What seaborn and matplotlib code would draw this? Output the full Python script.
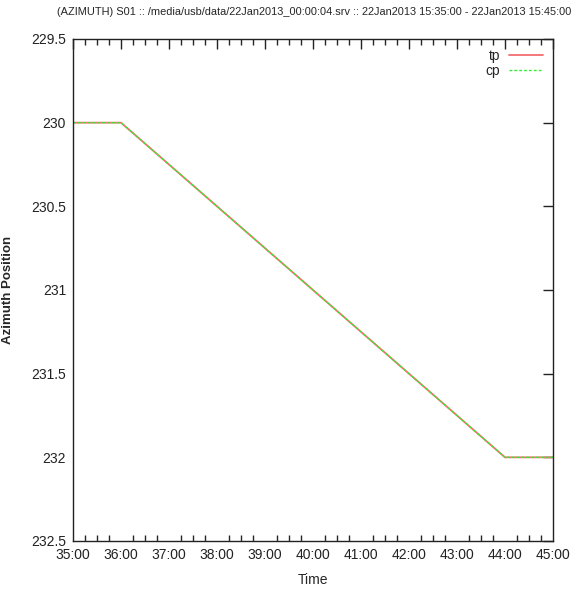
import matplotlib
matplotlib.use("Agg")
import matplotlib.pyplot as plt
import seaborn as sns
import pandas as pd
from matplotlib.ticker import FuncFormatter, MultipleLocator

# Data (time in minutes past 15:00)
time_min = [35, 36, 44, 45]
tp = [230.0, 230.0, 232.0, 232.0]
cp = [230.0, 230.0, 232.0, 232.0]
x_ticks = [35, 36, 37, 38, 39, 40, 41, 42, 43, 44, 45]
y_ticks = [229.5, 230, 230.5, 231, 231.5, 232, 232.5]
y_tick_labels = ["229.5", "230", "230.5", "231", "231.5", "232", "232.5"]

sns.set_theme(style="white")
plt.rcParams['font.family'] = ['Liberation Sans', 'DejaVu Sans']

fig = plt.figure(figsize=(5.77, 5.94), dpi=100)
ax = fig.add_axes([73/577, 1 - 541/594, 480/577, 502/594])

df = pd.DataFrame({"Time": time_min + time_min,
                   "val": tp + cp,
                   "series": ["tp"] * len(tp) + ["cp"] * len(cp)})

sns.lineplot(data=df[df.series == "tp"], x="Time", y="val", ax=ax,
             color="#f26d6d", linewidth=1.3, label="tp")
sns.lineplot(data=df[df.series == "cp"], x="Time", y="val", ax=ax,
             color="#33ee33", linewidth=1.0, linestyle=(0, (2, 1.5)), label="cp")

ax.set_xlim(35, 45)
ax.set_ylim(232.5, 229.5)
ax.set_xticks(x_ticks)
ax.xaxis.set_minor_locator(MultipleLocator(0.25))
ax.xaxis.set_major_formatter(FuncFormatter(lambda v, p: f"{int(round(v))}:00"))
ax.set_yticks(y_ticks)
ax.set_yticklabels(y_tick_labels)

ax.tick_params(axis="both", which="major", direction="in", length=7, width=1,
               top=True, right=True, labelsize=10, colors="#222222", pad=5)
ax.tick_params(axis="x", which="minor", direction="in", length=4, width=1,
               top=True, bottom=True)
for s in ax.spines.values():
    s.set_color("#222222")
    s.set_linewidth(1)

ax.set_xlabel("Time", fontsize=10)
ax.xaxis.set_label_coords(0.5, -0.064)
ax.set_ylabel("Azimuth Position", fontsize=9.5, fontweight="bold")
ax.yaxis.set_label_coords(-0.122, 0.5)
fig.suptitle("(AZIMUTH) S01 :: /media/usb/data/22Jan2013_00:00:04.srv :: 22Jan2013 15:35:00 - 22Jan2013 15:45:00",
             x=0.544, y=0.988, fontsize=7.9)

leg = ax.legend(loc="upper right", frameon=False, markerfirst=False, fontsize=10,
                handlelength=2.5, borderaxespad=0.3, labelspacing=0.1, handletextpad=0.6)
for t in leg.get_texts():
    t.set_ha("right")

fig.savefig("out.png", dpi=100)
